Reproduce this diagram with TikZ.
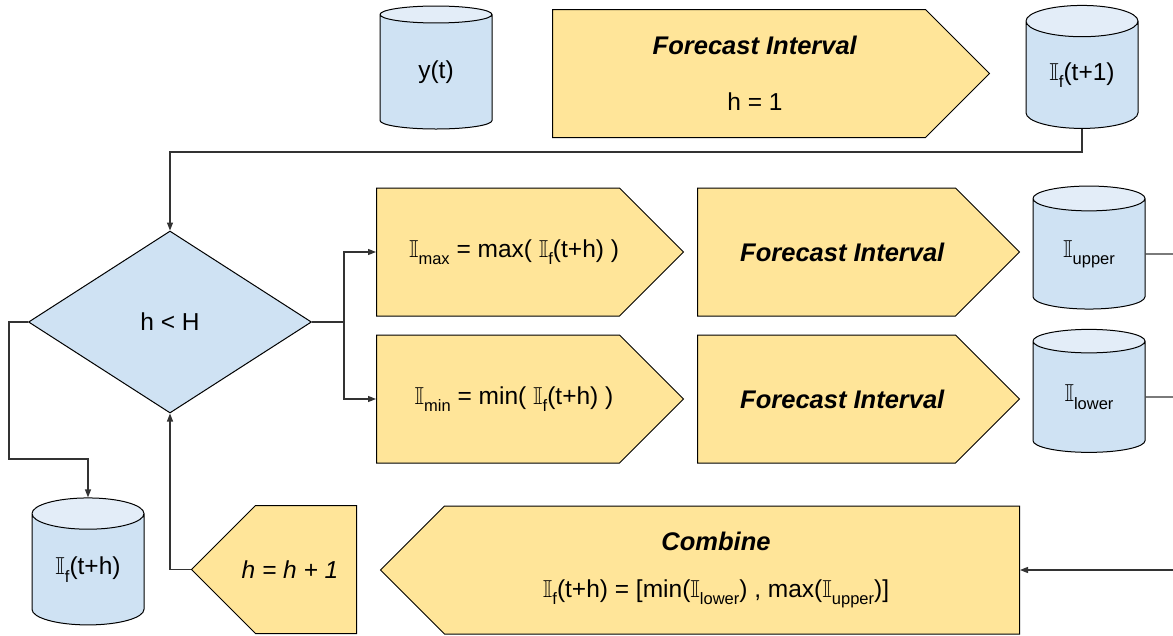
\documentclass[tikz,border=0pt]{standalone}
\usepackage{fontspec}
\setmainfont{Liberation Sans}
\usepackage{amssymb}
\usetikzlibrary{arrows.meta, positioning, shapes.geometric, shapes.symbols}

\definecolor{stepyellow}{HTML}{FFE599}
\definecolor{storeblue}{HTML}{CFE2F3}
\definecolor{storetop}{HTML}{E3EDF8}

\newcommand{\Iset}[1]{$\mathbb{I}$\raisebox{-0.3em}{\fontsize{16.5}{16.5}\selectfont #1}}
\newcommand{\Bold}[1]{{\fontsize{25.5}{28}\selectfont\textbf{\textit{#1}}}}

\begin{document}
\begin{tikzpicture}[
  x=1pt, y=1pt,
  font=\fontsize{24.5}{28}\selectfont,
  store/.style = {cylinder, shape border rotate=90, aspect=0.48, draw,
                  line width=1pt, inner sep=0pt,
                  cylinder uses custom fill, cylinder body fill=storeblue,
                  cylinder end fill=storetop,
                  minimum width=112pt, minimum height=123pt},
  stepbox/.style = {signal, signal pointer angle=90, draw, line width=1pt,
                    fill=stepyellow, minimum height=128pt, align=center},
  toright/.style = {stepbox, signal to=east, anchor=west},
  toleft/.style = {stepbox, signal to=west, anchor=east},
  textr/.style = {align=center, xshift=16pt},
  textl/.style = {align=center, xshift=-16pt},
  decision/.style = {diamond, draw, line width=1pt, fill=storeblue,
                     inner sep=0pt, minimum width=283pt, minimum height=182pt},
  line/.style = {line width=1.2pt, draw=black!80},
  arrow/.style = {line, -{Triangle[length=8pt, width=6pt]}}
]
\useasboundingbox (0,0) rectangle (1173,-635);

% Top row
\node[store] (ydata) at (436,-72) {y(t)};
\node[toright, minimum width=437pt,
      label={[textr]center:\Bold{Forecast Interval}\\[28pt] h = 1}] (fc_top) at (552,-73.5) {};
\node[store] (if_one) at (1082,-75) {\Iset{f}(t+1)};

% Decision
\node[decision] (cond) at (170,-322) {h < H};

% Upper / lower branch
\node[toright, minimum width=307pt,
      label={[textr]center:\Iset{max} = max( \Iset{f}(t+h) )}] (imax) at (376,-252) {};
\node[toright, minimum width=307pt,
      label={[textr]center:\Iset{min} = min( \Iset{f}(t+h) )}] (imin) at (376,-399) {};
\node[toright, minimum width=322pt,
      label={[textr]center:\Bold{Forecast Interval}}] (fc_up) at (697,-252) {};
\node[toright, minimum width=322pt,
      label={[textr]center:\Bold{Forecast Interval}}] (fc_lo) at (697,-399) {};
\node[store] (i_up) at (1089,-254) {\Iset{upper}};
\node[store] (i_lo) at (1089,-397) {\Iset{lower}};

% Bottom row
\node[store, minimum height=127pt] (if_h) at (88,-569.5) {\Iset{f}(t+h)};
\node[toleft, minimum width=165pt,
      label={[textl]center:\textit{h = h + 1}}] (inc) at (357,-569.5) {};
\node[toleft, minimum width=639pt,
      label={[textl]center:\Bold{Combine}\\[19pt]
             \Iset{f}(t+h) = [min(\Iset{lower}) , max(\Iset{upper})]}] (comb) at (1020,-570) {};

% Free ends at the right border
\coordinate (exit_up) at (1173,-254);
\coordinate (exit_lo) at (1173,-397);
\coordinate (entry_comb) at (1173,-570);

% Connectors
\draw[arrow] (if_one.south) -- ++(0,-23) -| (cond.north);
\draw[arrow] (cond.west) -- ++(-19,0) -- ++(0,-137) -| (if_h.north);
\draw[arrow] (cond.east) -- ++(32,0) |- (imax.west);
\draw[arrow] (cond.east) -- ++(32,0) |- (imin.west);
\draw[arrow] (inc.west) -| (cond.south);
\draw[line] (i_up.east) -- (exit_up);
\draw[line] (i_lo.east) -- (exit_lo);
\draw[arrow] (entry_comb) -- (comb.east);

\end{tikzpicture}
\end{document}
